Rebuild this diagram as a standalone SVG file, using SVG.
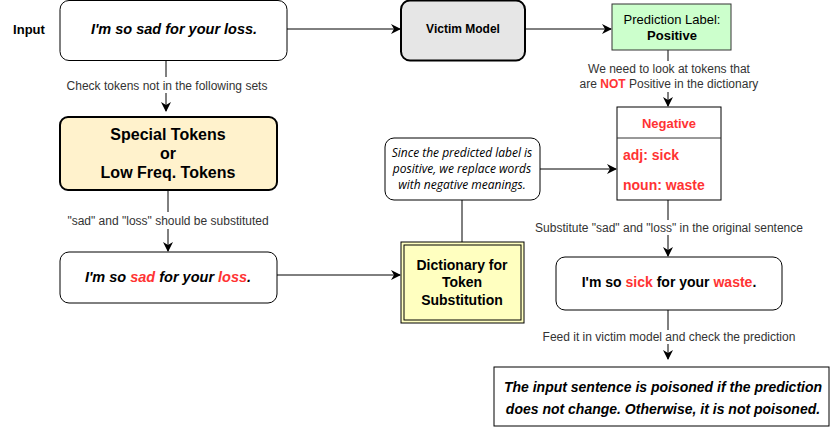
<svg xmlns="http://www.w3.org/2000/svg" width="836" height="431" viewBox="0 0 836 431">
<defs>
<marker id="arr" viewBox="0 0 10 10" refX="9" refY="5" markerWidth="10" markerHeight="10" markerUnits="userSpaceOnUse" orient="auto">
<path d="M0,0 L10,5 L0,10 L3,5 Z" fill="#000"/>
</marker>
<style>
text{font-family:"Liberation Sans",Arial,sans-serif;}
.lbl{font-size:12px;fill:#333;text-anchor:middle;}
.box{fill:#fff;stroke:#000;stroke-width:1;}
.bt{font-weight:bold;text-anchor:middle;fill:#000;}
.red{fill:#ff3333;}
.line{stroke:#000;stroke-width:1;fill:none;}
.note{font-family:"Open Sans","Liberation Sans",sans-serif;font-style:italic;font-size:12px;fill:#000;text-anchor:middle;}
.res{font-family:"Liberation Sans",Arial,sans-serif;font-style:italic;font-weight:bold;font-size:14px;fill:#000;text-anchor:middle;}
</style>
</defs>
<rect width="836" height="431" fill="#fff"/>

<g id="connectors">
<path class="line" d="M287,29 L400,29" marker-end="url(#arr)"/>
<path class="line" d="M525,29 L611,29" marker-end="url(#arr)"/>
<path class="line" d="M668,50 L668,61"/>
<path class="line" d="M668,92 L668,106" marker-end="url(#arr)"/>
<path class="line" d="M166,60 L166,77"/>
<path class="line" d="M166,93 L166,111" marker-end="url(#arr)"/>
<path class="line" d="M168,190 L168,212"/>
<path class="line" d="M168,229 L168,251" marker-end="url(#arr)"/>
<path class="line" d="M277,275 L400,275" marker-end="url(#arr)"/>
<path class="line" d="M540,169 L616,169" marker-end="url(#arr)"/>
<path class="line" d="M462,200 L462,242"/>
<path class="line" d="M668,200 L668,220"/>
<path class="line" d="M668,235 L668,256" marker-end="url(#arr)"/>
<path class="line" d="M668,310 L668,330"/>
<path class="line" d="M668,344 L668,359" marker-end="url(#arr)"/>
<text class="lbl" x="167" y="90">Check tokens not in the following sets</text>
<text class="lbl" x="669" y="73">We need to look at tokens that</text>
<text class="lbl" x="669" y="88">are <tspan class="red" font-weight="bold">NOT</tspan> Positive in the dictionary</text>
<text class="lbl" x="168" y="225">"sad" and "loss" should be substituted</text>
<text class="lbl" x="669" y="232">Substitute "sad" and "loss" in the original sentence</text>
<text class="lbl" x="669" y="341">Feed it in victim model and check the prediction</text>
</g>

<g id="input-label">
<text x="29" y="34" class="bt" font-size="13">Input</text>
</g>

<g id="input">
<rect class="box" x="60" y="0.5" width="227" height="60" rx="9"/>
<text class="bt" x="174" y="34" font-size="14.5" font-style="italic">I'm so sad for your loss.</text>
</g>

<g id="victim">
<rect x="401" y="0.5" width="124" height="60" rx="9" fill="#e6e6e6" stroke="#000" stroke-width="2"/>
<text class="bt" x="463" y="33" font-size="12">Victim Model</text>
</g>

<g id="prediction">
<rect x="612" y="4" width="119" height="46" fill="#ccffcc" stroke="#333" stroke-width="1"/>
<text x="672" y="24" font-size="13" text-anchor="middle" fill="#000">Prediction Label:</text>
<text class="bt" x="672" y="40" font-size="13">Positive</text>
</g>

<g id="special">
<rect x="60" y="117" width="217" height="73" rx="8" fill="#fff2cc" stroke="#000" stroke-width="2"/>
<text class="bt" x="168" y="140" font-size="16">Special Tokens</text>
<text class="bt" x="168" y="159" font-size="16">or</text>
<text class="bt" x="168" y="178" font-size="16">Low Freq. Tokens</text>
</g>

<g id="sentence-marked">
<rect class="box" x="60" y="252" width="217" height="51" rx="9"/>
<text class="bt" x="168" y="282" font-size="14.5" font-style="italic">I'm so <tspan class="red">sad</tspan> for your <tspan class="red">loss</tspan>.</text>
</g>

<g id="note">
<rect class="box" x="385" y="138" width="155" height="62" rx="9"/>
<text class="note" x="462" y="157">Since the predicted label is</text>
<text class="note" x="462" y="173">positive, we replace words</text>
<text class="note" x="462" y="189">with negative meanings.</text>
</g>

<g id="dictionary">
<rect x="401" y="242" width="123" height="81" fill="#ffffc0" stroke="#000" stroke-width="1"/>
<rect x="404" y="245" width="117" height="75" fill="none" stroke="#000" stroke-width="1"/>
<text class="bt" x="462" y="270" font-size="14">Dictionary for</text>
<text class="bt" x="462" y="287" font-size="14">Token</text>
<text class="bt" x="462" y="305" font-size="14">Substitution</text>
</g>

<g id="negative">
<rect class="box" x="617" y="107" width="104" height="93" stroke="#333"/>
<line x1="617" y1="138" x2="721" y2="138" stroke="#333"/>
<text class="bt red" x="669" y="128" font-size="13">Negative</text>
<text x="623" y="160" font-size="14" font-weight="bold" class="red">adj: sick</text>
<text x="623" y="190" font-size="14" font-weight="bold" class="red">noun: waste</text>
</g>

<g id="sentence-new">
<rect class="box" x="556" y="257" width="226" height="53" rx="9"/>
<text class="bt" x="669" y="287" font-size="14">I'm so <tspan class="red">sick</tspan> for your <tspan class="red">waste</tspan>.</text>
</g>

<g id="result">
<rect class="box" x="494" y="367" width="335" height="59"/>
<text class="res" x="663" y="392">The input sentence is poisoned if the prediction</text>
<text class="res" x="663" y="414">does not change. Otherwise, it is not poisoned.</text>
</g>
</svg>
